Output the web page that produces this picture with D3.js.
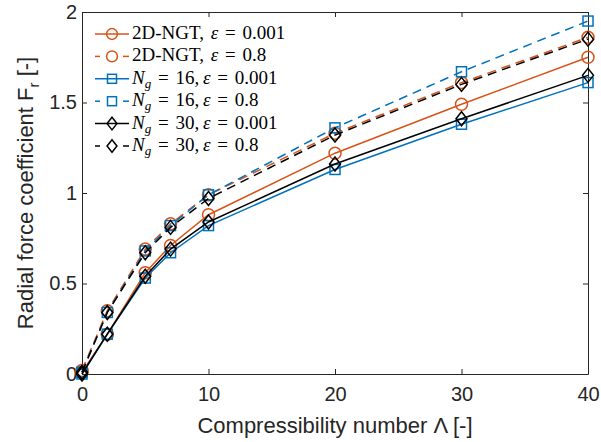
<!DOCTYPE html>
<html>
<head>
<meta charset="utf-8">
<script src="https://cdn.jsdelivr.net/npm/d3@7"></script>
<style>
	body { margin: 0; background: #fff; }
	svg { display: block; }
	.tick text { font-family: "Liberation Sans", Arial, sans-serif; font-size: 20px; fill: #262626; }
</style>
</head>
<body>
<div id="chart"></div>
<script>
const lambdas = [0, 2, 5, 7, 10, 20, 30, 40];

const ngtLow = [0.01, 0.22, 0.56, 0.71, 0.88, 1.22, 1.49, 1.75];
const ngtHigh = [0.02, 0.35, 0.69, 0.83, 0.99, 1.33, 1.61, 1.86];
const ng16Low = [0.0, 0.22, 0.53, 0.67, 0.82, 1.13, 1.38, 1.61];
const ng16High = [0.01, 0.34, 0.68, 0.82, 0.99, 1.36, 1.67, 1.95];
const ng30Low = [0.0, 0.22, 0.54, 0.69, 0.84, 1.16, 1.41, 1.65];
const ng30High = [0.01, 0.34, 0.67, 0.81, 0.97, 1.32, 1.60, 1.85];

const xTicks = [0, 10, 20, 30, 40];
const yTicks = [0, 0.5, 1, 1.5, 2];

const series = [
	{ values: ngtLow, color: '#D95319', dash: null, marker: 'circle', name: '2D-NGT', eps: '0.001' },
	{ values: ngtHigh, color: '#D95319', dash: '9,6', marker: 'circle', name: '2D-NGT', eps: '0.8' },
	{ values: ng16Low, color: '#0072BD', dash: null, marker: 'square', ng: '16', eps: '0.001' },
	{ values: ng16High, color: '#0072BD', dash: '9,6', marker: 'square', ng: '16', eps: '0.8' },
	{ values: ng30Low, color: '#000000', dash: null, marker: 'diamond', ng: '30', eps: '0.001' },
	{ values: ng30High, color: '#000000', dash: '9,6', marker: 'diamond', ng: '30', eps: '0.8' }
];

const width = 601, height = 442;
const margin = { left: 82, right: 13, top: 12, bottom: 68 };
const innerW = width - margin.left - margin.right;
const innerH = height - margin.top - margin.bottom;

const svg = d3.select('#chart').append('svg')
	.attr('width', width)
	.attr('height', height);

const x = d3.scaleLinear().domain([0, 40]).range([margin.left, margin.left + innerW]);
const y = d3.scaleLinear().domain([0, 2]).range([margin.top + innerH, margin.top]);

const axisColor = '#262626';
const fmt = d => d3.format('')(d);

// axes with inward ticks, box on
let gx = svg.append('g')
	.attr('transform', 'translate(0,' + (margin.top + innerH) + ')')
	.call(d3.axisBottom(x).tickValues(xTicks).tickFormat(fmt).tickSizeInner(-5).tickSizeOuter(0).tickPadding(13));
let gxTop = svg.append('g')
	.attr('transform', 'translate(0,' + margin.top + ')')
	.call(d3.axisTop(x).tickValues(xTicks).tickFormat('').tickSizeInner(-5).tickSizeOuter(0));
let gy = svg.append('g')
	.attr('transform', 'translate(' + margin.left + ',0)')
	.call(d3.axisLeft(y).tickValues(yTicks).tickFormat(fmt).tickSizeInner(-5).tickSizeOuter(0).tickPadding(5));
let gyRight = svg.append('g')
	.attr('transform', 'translate(' + (margin.left + innerW) + ',0)')
	.call(d3.axisRight(y).tickValues(yTicks).tickFormat('').tickSizeInner(-5).tickSizeOuter(0));

[gx, gxTop, gy, gyRight].forEach(g => {
	g.selectAll('path, line').attr('stroke', axisColor).attr('stroke-width', 1);
});

const line = d3.line()
	.x((d, i) => x(lambdas[i]))
	.y(d => y(d));

function drawMarker(g, type, cx, cy, color, k) {
	k = k || 1;
	if (type === 'circle') {
		g.append('circle').attr('cx', cx).attr('cy', cy).attr('r', 6 * k)
			.attr('fill', 'none').attr('stroke', color).attr('stroke-width', 1.5);
	} else if (type === 'square') {
		g.append('rect').attr('x', cx - 5 * k).attr('y', cy - 5 * k).attr('width', 10 * k).attr('height', 10 * k)
			.attr('fill', 'none').attr('stroke', color).attr('stroke-width', 1.5);
	} else {
		let h = 7 * k, w = 5.5 * k;
		g.append('path')
			.attr('d', 'M' + cx + ',' + (cy - h) + 'L' + (cx + w) + ',' + cy + 'L' + cx + ',' + (cy + h) + 'L' + (cx - w) + ',' + cy + 'Z')
			.attr('fill', 'none').attr('stroke', color).attr('stroke-width', 1.5);
	}
}

const plot = svg.append('g');

series.forEach(s => {
	let g = plot.append('g');
	g.append('path')
		.datum(s.values)
		.attr('d', line)
		.attr('fill', 'none')
		.attr('stroke', s.color)
		.attr('stroke-width', 1.5)
		.attr('stroke-dasharray', s.dash);
	s.values.forEach((v, i) => drawMarker(g, s.marker, x(lambdas[i]), y(v), s.color));
});

// legend (no box)
let legend = svg.append('g');
series.forEach((s, i) => {
	let cy = 34 + i * 22.4;
	let g = legend.append('g');
	if (s.dash) {
		g.append('line').attr('x1', 95).attr('x2', 100).attr('y1', cy).attr('y2', cy)
			.attr('stroke', s.color).attr('stroke-width', 1.5);
		g.append('line').attr('x1', 123).attr('x2', 129).attr('y1', cy).attr('y2', cy)
			.attr('stroke', s.color).attr('stroke-width', 1.5);
	} else {
		g.append('line').attr('x1', 95).attr('x2', 129).attr('y1', cy).attr('y2', cy)
			.attr('stroke', s.color).attr('stroke-width', 1.5);
	}
	drawMarker(g, s.marker, 112, cy, s.color, 0.9);

	let t = g.append('text')
		.attr('x', 132).attr('y', cy + 5)
		.attr('font-family', '"Liberation Serif", "DejaVu Serif", serif')
		.attr('font-size', 19)
		.attr('word-spacing', 2)
		.attr('fill', '#000')
		.attr('xml:space', 'preserve');
	if (s.ng) {
		t.append('tspan').attr('font-style', 'italic').text('N');
		t.append('tspan').attr('font-style', 'italic').attr('font-size', 13).attr('dy', 4).text('g');
		t.append('tspan').attr('dy', -4).text(' = ' + s.ng + ',\u2009');
	} else {
		t.append('tspan').text(s.name + ', ');
	}
	t.append('tspan').attr('font-style', 'italic').text('ε');
	t.append('tspan').text(' = ' + s.eps);
});

// axis titles
svg.append('text')
	.attr('x', margin.left + innerW / 2)
	.attr('y', 433)
	.attr('text-anchor', 'middle')
	.attr('font-family', '"Liberation Sans", Arial, sans-serif')
	.attr('font-size', 22)
	.attr('fill', axisColor)
	.text('Compressibility number Λ [-]');

let yl = svg.append('text')
	.attr('transform', 'translate(33,' + (margin.top + innerH / 2) + ') rotate(-90)')
	.attr('text-anchor', 'middle')
	.attr('font-family', '"Liberation Sans", Arial, sans-serif')
	.attr('font-size', 22)
	.attr('fill', axisColor);
yl.append('tspan').text('Radial force coefficient F');
yl.append('tspan').attr('font-size', 15).attr('dy', 6).text('r');
yl.append('tspan').attr('dy', -6).text(' [-]');
</script>
</body>
</html>
